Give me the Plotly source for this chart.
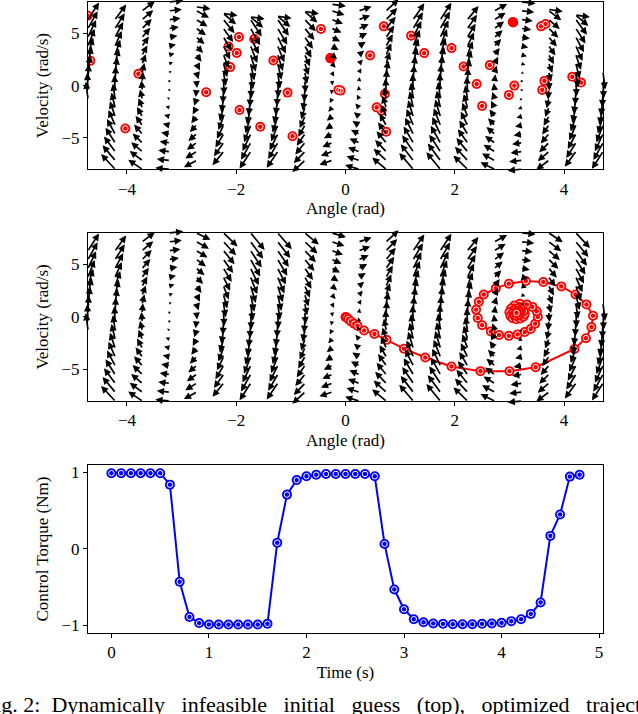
import numpy as np
import plotly.graph_objects as go

# ---- top panel: dynamically infeasible initial guess (angle rad, velocity rad/s)
guess_angle = [-4.72, -4.67, -3.79, -4.03, -2.55, -2.14, -1.95, -1.99, -2.11, -1.67,
               -1.94, -1.56, -1.32, -1.06, -0.97, -0.45, -0.28, -0.13, -0.09, 0.45,
               0.70, 0.72, 0.57, 0.66, 0.745, 1.20, 1.44, 1.94, 2.16, 2.64,
               2.40, 2.50, 3.06, 2.99, 3.09, 3.58, 3.66, 3.64, 3.60, 4.15, 4.31]
guess_vel = [6.7, 2.37, 1.13, -4.1, -0.63, 3.75, 4.65, 3.12, 1.77, 4.46,
             -2.34, -3.94, 2.40, -0.67, -4.84, 5.42, 2.63, -0.41, -0.48, 2.89,
             5.67, -0.80, -2.08, -2.40, -4.42, 4.78, 3.11, 3.59, 1.83, 1.96,
             0.16, -1.95, 6.09, -0.89, 0.0, 5.67, 5.90, 0.45, -0.41, 0.84, 0.29]
# points that sit on top of each other and show as solid discs
guess_solid_angle = [-0.27, 3.07]
guess_solid_vel = [2.60, 6.05]

# ---- middle panel: optimized trajectory
traj_angle = [0.0, 0.02, 0.05, 0.10, 0.16, 0.22, 0.34, 0.53, 0.75, 1.07,
              1.46, 1.94, 2.47, 3.00, 3.48, 4.19, 4.40, 4.50, 4.53, 4.41,
              4.21, 3.95, 3.62, 3.30, 2.99, 2.75, 2.53, 2.44, 2.39, 2.42,
              2.50, 2.66, 2.81, 2.99, 3.15, 3.28, 3.39, 3.47, 3.52, 3.50,
              3.42, 3.32, 3.19, 3.09, 3.03, 3.00, 3.02, 3.06, 3.13, 3.20,
              3.26, 3.28, 3.26, 3.21, 3.14, 3.09, 3.07, 3.09, 3.13, 3.18,
              3.20, 3.19, 3.16, 3.13, 3.12, 3.12, 3.13]
traj_vel = [0.0, -0.05, -0.20, -0.42, -0.64, -0.84, -1.29, -1.62, -2.18, -3.02,
            -3.86, -4.71, -5.16, -5.16, -4.78, -3.05, -2.02, -0.96, 0.12, 1.18,
            2.14, 2.91, 3.33, 3.43, 3.17, 2.72, 2.14, 1.44, 0.70, -0.10,
            -0.78, -1.38, -1.72, -1.80, -1.66, -1.44, -1.15, -0.64, 0.0, 0.54,
            0.96, 1.18, 1.25, 1.09, 0.80, 0.45, 0.10, -0.12, -0.22, -0.15,
            0.05, 0.30, 0.55, 0.74, 0.80, 0.66, 0.42, 0.18, 0.10, 0.22,
            0.40, 0.55, 0.58, 0.52, 0.45, 0.40, 0.38]

# ---- bottom panel: control torque
time_s = [0.0, 0.1, 0.2, 0.3, 0.4, 0.5, 0.6, 0.7, 0.8, 0.9,
          1.0, 1.1, 1.2, 1.3, 1.4, 1.5, 1.6, 1.7, 1.8, 1.9,
          2.0, 2.1, 2.2, 2.3, 2.4, 2.5, 2.6, 2.7, 2.8, 2.9,
          3.0, 3.1, 3.2, 3.3, 3.4, 3.5, 3.6, 3.7, 3.8, 3.9,
          4.0, 4.1, 4.2, 4.3, 4.4, 4.5, 4.6, 4.7, 4.8]
torque = [0.99, 0.99, 0.99, 0.99, 0.99, 0.99, 0.84, -0.43, -0.89, -0.97,
          -0.99, -0.99, -0.99, -0.99, -0.99, -0.99, -0.98, 0.08, 0.71, 0.90,
          0.95, 0.97, 0.98, 0.98, 0.98, 0.98, 0.98, 0.95, 0.065, -0.53,
          -0.79, -0.92, -0.96, -0.975, -0.98, -0.985, -0.985, -0.985, -0.98, -0.975,
          -0.967, -0.945, -0.92, -0.85, -0.70, 0.17, 0.45, 0.945, 0.97]

# ---- pendulum vector field (quiver grid)
G_OVER_L = 9.81
field_angle = np.linspace(-1.5 * np.pi, 1.5 * np.pi, 20)
field_vel = np.linspace(-8, 8, 20)

caption = ("Fig.\u00a02:\u00a0\u00a0Dynamically\u00a0\u00a0\u00a0infeasible\u00a0\u00a0\u00a0initial"
           "\u00a0\u00a0\u00a0guess\u00a0\u00a0\u00a0(top),\u00a0\u00a0\u00a0optimized\u00a0\u00a0\u00a0trajectory"
           "\u00a0\u00a0\u00a0(middle),")

FONT = "Liberation Serif"
RED = "#ff0000"
BLUE = "#0000ff"

W, H = 638, 714
MARGIN = dict(l=88, r=35, t=2, b=81)
PW = W - MARGIN["l"] - MARGIN["r"]
PH = H - MARGIN["t"] - MARGIN["b"]
dom1 = [0.735, 1.0]
dom2 = [0.3677, 0.634]
dom3 = [0.0, 0.266]
xr_field = [-1.5 * np.pi, 1.5 * np.pi]
yr_field = [-8, 8]

# matplotlib-like autoscale of the arrows
TH, OM = np.meshgrid(field_angle, field_vel)
mag = np.hypot(OM, G_OVER_L * np.sin(TH))
sn = max(10, np.sqrt(mag.size))
px_per_unit = PW / (1.8 * mag.mean() * sn)
ARROW_W = 1.7
ARROW_SIZE = 0.85
HEAD_LEN = 5 * ARROW_W * ARROW_SIZE


def quiver(xname, yname, dom):
    plot_h = PH * (dom[1] - dom[0])
    anns, dot_x, dot_y = [], [], []
    for th in field_angle:
        for om in field_vel:
            u, v = om, G_OVER_L * np.sin(th)
            dx, dy = u * px_per_unit, v * px_per_unit
            length = np.hypot(dx, dy)
            fx = (th - xr_field[0]) / (xr_field[1] - xr_field[0]) + dx / PW
            fy = (om - yr_field[0]) / (yr_field[1] - yr_field[0]) + dy / plot_h
            if not (-3 / PW <= fx <= 1 + 3 / PW and -3 / plot_h <= fy <= 1 + 3 / plot_h):
                continue
            if length < 1.8:
                dot_x.append(th)
                dot_y.append(om)
                continue
            f = min(1.0, length / HEAD_LEN)
            anns.append(dict(
                x=th, y=om, xref=xname, yref=yname, text="", showarrow=True,
                arrowhead=2, arrowsize=ARROW_SIZE, arrowwidth=ARROW_W * f, arrowcolor="black",
                xshift=dx, yshift=dy, ax=-dx, ay=dy, axref="pixel", ayref="pixel",
                font=dict(size=1), borderpad=0,
            ))
    dots = go.Scatter(x=dot_x, y=dot_y, xaxis=xname, yaxis=yname, mode="markers",
                      marker=dict(size=2.2, color="black"), showlegend=False, hoverinfo="skip")
    return anns, dots


fig = go.Figure()
annotations = []

# top panel
a1, d1 = quiver("x", "y", dom1)
annotations += a1
fig.add_trace(d1)
fig.add_trace(go.Scatter(x=guess_angle, y=guess_vel, xaxis="x", yaxis="y", mode="markers",
                         marker=dict(size=10, color=RED, line=dict(width=0)), showlegend=False))
fig.add_trace(go.Scatter(x=guess_angle, y=guess_vel, xaxis="x", yaxis="y", mode="markers",
                         marker=dict(size=5.5, symbol="circle-open", color="white", line=dict(width=1, color="white")),
                         showlegend=False))
fig.add_trace(go.Scatter(x=guess_solid_angle, y=guess_solid_vel, xaxis="x", yaxis="y", mode="markers",
                         marker=dict(size=10, color=RED, line=dict(width=0)), showlegend=False))

# middle panel
a2, d2 = quiver("x2", "y2", dom2)
annotations += a2
fig.add_trace(d2)
fig.add_trace(go.Scatter(x=traj_angle, y=traj_vel, xaxis="x2", yaxis="y2", mode="lines",
                         line=dict(color=RED, width=2), showlegend=False))
for th, om in zip(traj_angle, traj_vel):
    fig.add_trace(go.Scatter(x=[th], y=[om], xaxis="x2", yaxis="y2", mode="markers",
                             marker=dict(size=10, color=RED, line=dict(width=0)), showlegend=False))
    fig.add_trace(go.Scatter(x=[th], y=[om], xaxis="x2", yaxis="y2", mode="markers",
                             marker=dict(size=5.5, symbol="circle-open", color="white",
                                         line=dict(width=1, color="white")), showlegend=False))

# bottom panel
fig.add_trace(go.Scatter(x=time_s, y=torque, xaxis="x3", yaxis="y3", mode="lines+markers",
                         line=dict(color=BLUE, width=2), marker=dict(size=10, color=BLUE, line=dict(width=0)),
                         showlegend=False))
fig.add_trace(go.Scatter(x=time_s, y=torque, xaxis="x3", yaxis="y3", mode="markers",
                         marker=dict(size=5.5, symbol="circle-open", color="white", line=dict(width=1, color="white")),
                         showlegend=False))

tick_font = dict(family=FONT, size=17, color="black")
axis_style = dict(showline=True, linecolor="black", linewidth=1, mirror=True, ticks="outside",
                  ticklen=4, tickwidth=1, tickcolor="black", showgrid=False, zeroline=False,
                  tickfont=tick_font, automargin=False)


def xaxis(title, rng, dvals, anchor):
    return dict(axis_style, domain=[0, 1], range=rng, tickvals=dvals, anchor=anchor,
                title=dict(text=title, font=tick_font, standoff=4))


def yaxis(title, rng, dvals, dom, anchor):
    return dict(axis_style, domain=dom, range=rng, tickvals=dvals, anchor=anchor,
                title=dict(text=title, font=tick_font, standoff=8))


annotations.append(dict(text=caption, xref="paper", yref="paper", x=(-19 - MARGIN["l"]) / PW,
                        y=(-71) / PH, xanchor="left", yanchor="middle", showarrow=False,
                        font=dict(family=FONT, size=22, color="black")))

fig.update_layout(
    width=W, height=H, margin=MARGIN, paper_bgcolor="white", plot_bgcolor="white",
    template="none",
    xaxis=xaxis("Angle (rad)", xr_field, [-4, -2, 0, 2, 4], "y"),
    yaxis=yaxis("Velocity (rad/s)", yr_field, [-5, 0, 5], dom1, "x"),
    xaxis2=xaxis("Angle (rad)", xr_field, [-4, -2, 0, 2, 4], "y2"),
    yaxis2=yaxis("Velocity (rad/s)", yr_field, [-5, 0, 5], dom2, "x2"),
    xaxis3=xaxis("Time (s)", [-0.24, 5.04], [0, 1, 2, 3, 4, 5], "y3"),
    yaxis3=yaxis("Control Torque (Nm)", [-1.1, 1.095], [-1, 0, 1], dom3, "x3"),
    annotations=annotations,
)

# the page body has a default margin; drop it so the figure sits at the window corner
fig.write_html("out.html", config={"displayModeBar": False},
               post_script="document.body.style.margin='0';")
